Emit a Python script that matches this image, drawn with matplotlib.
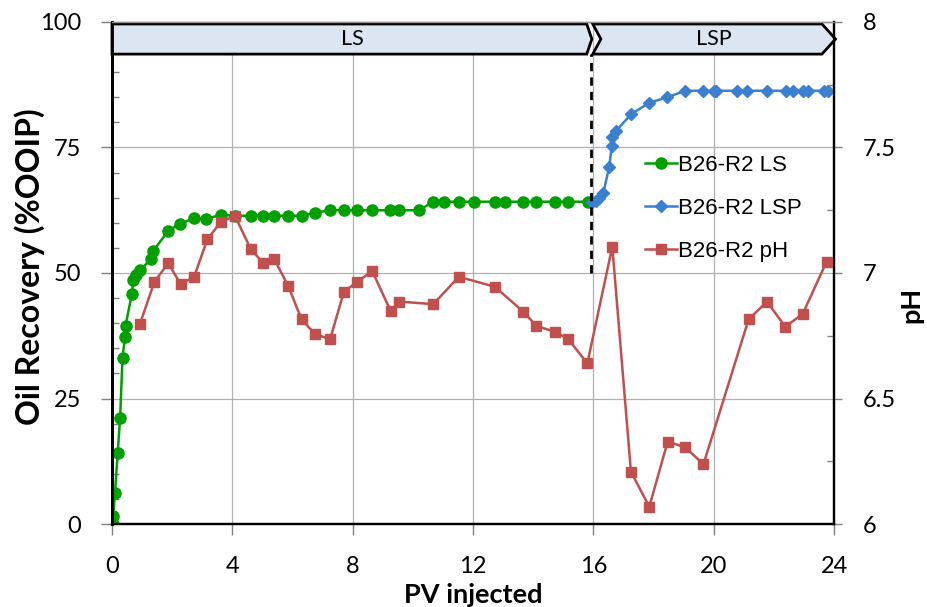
import matplotlib
matplotlib.use("Agg")
import matplotlib.pyplot as plt
from matplotlib.patches import Polygon
from matplotlib.ticker import MultipleLocator

# ---------------- data ----------------
ls_pv = [0.03, 0.04, 0.10, 0.19, 0.27, 0.35, 0.43, 0.45, 0.66, 0.71, 0.80, 0.93,
         1.30, 1.37, 1.87, 2.26, 2.73, 3.14, 3.62, 4.09, 4.62, 5.01, 5.39, 5.86,
         6.30, 6.75, 7.25, 7.71, 8.16, 8.65, 9.24, 9.54, 10.21, 10.68, 11.03,
         11.53, 12.03, 12.73, 13.06, 13.67, 14.11, 14.72, 15.17, 15.83]
ls_rec = [0.1, 1.6, 6.2, 14.2, 21.1, 33.1, 37.2, 39.5, 45.8, 48.7, 49.7, 50.5,
          52.8, 54.4, 58.4, 59.8, 60.9, 60.8, 61.6, 61.4, 61.4, 61.4, 61.4, 61.4,
          61.4, 62.0, 62.5, 62.5, 62.5, 62.5, 62.5, 62.5, 62.5, 64.2, 64.2,
          64.2, 64.2, 64.2, 64.2, 64.2, 64.2, 64.2, 64.2, 64.2]

lsp_pv = [15.95, 16.10, 16.20, 16.33, 16.53, 16.61, 16.63, 16.74, 17.25, 17.85,
          18.46, 19.05, 19.63, 20.00, 20.08, 20.78, 21.12, 21.78, 22.39, 22.65,
          22.98, 23.14, 23.66, 23.81]
lsp_rec = [64.2, 64.4, 65.0, 65.9, 71.2, 75.2, 77.0, 78.2, 81.6, 83.9,
           85.0, 86.3, 86.3, 86.3, 86.3, 86.3, 86.3, 86.3, 86.3, 86.3,
           86.3, 86.3, 86.3, 86.3]

ph_pv = [0.93, 1.41, 1.87, 2.28, 2.73, 3.17, 3.62, 4.09, 4.61, 5.03, 5.39, 5.86,
         6.30, 6.75, 7.25, 7.71, 8.16, 8.65, 9.26, 9.54, 10.68, 11.53, 12.73,
         13.67, 14.11, 14.72, 15.17, 15.80, 16.63, 17.25, 17.86, 18.47, 19.05,
         19.66, 21.16, 21.77, 22.38, 22.96, 23.75]
ph_val = [6.797, 6.965, 7.039, 6.956, 6.985, 7.134, 7.204, 7.227, 7.096, 7.039,
          7.056, 6.948, 6.815, 6.757, 6.736, 6.926, 6.965, 7.008, 6.849, 6.886,
          6.876, 6.985, 6.945, 6.846, 6.789, 6.766, 6.736, 6.640, 7.105, 6.208,
          6.069, 6.328, 6.306, 6.238, 6.815, 6.886, 6.786, 6.837, 7.045]

x_ticks = [0, 4, 8, 12, 16, 20, 24]
y_ticks = [0, 25, 50, 75, 100]
ph_ticks = [6, 6.5, 7, 7.5, 8]
ph_tick_labels = ["6", "6.5", "7", "7.5", "8"]
stage_labels = ["LS", "LSP"]
stage_bounds = [0.0, 15.95, 24.05]
switch_pv = 15.92
series_names = ["B26-R2 LS", "B26-R2 LSP", "B26-R2 pH"]

# ---------------- style ----------------
c_green = "#00a000"
c_blue = "#3a7fd0"
c_red = "#c0504d"
tick_font = "Lato"

fig = plt.figure(figsize=(9.27, 6.07), dpi=100)
ax = fig.add_axes([0.1208, 0.1367, 0.7789, 0.8271])
ax2 = ax.twinx()

ax.set_xlim(0, 24)
ax.set_ylim(0, 100)
ax2.set_ylim(6, 8)

# grid
for xv in x_ticks[1:-1]:
    ax.axvline(xv, color="#b0b0b0", lw=0.9, zorder=0)
for yv in y_ticks[1:-1]:
    ax.axhline(yv, color="#b0b0b0", lw=0.9, zorder=0)

# series
l1, = ax.plot(ls_pv, ls_rec, color=c_green, lw=1.8, marker="o", ms=8,
              label=series_names[0], zorder=4)
l2, = ax.plot(lsp_pv, lsp_rec, color=c_blue, lw=1.8, marker="D", ms=6.5,
              label=series_names[1], zorder=5)
l3, = ax2.plot(ph_pv, ph_val, color=c_red, lw=1.8, marker="s", ms=6.5,
               label=series_names[2], zorder=4)

# switch line
ax.plot([switch_pv, switch_pv], [50, 93.6], color="black", lw=2.0,
        ls=(0, (3, 2.2)), zorder=6)

# stage arrows
y0, y1 = 93.6, 99.6
ym = (y0 + y1) / 2
ls_poly = Polygon([(stage_bounds[0], y0), (stage_bounds[1] - 0.17, y0),
                   (stage_bounds[1], ym), (stage_bounds[1] - 0.17, y1),
                   (stage_bounds[0], y1)], closed=True,
                  facecolor="#dce6f2", edgecolor="black", lw=2.0,
                  clip_on=False, zorder=7)
lsp_poly = Polygon([(stage_bounds[1] + 0.03, y0), (stage_bounds[2] - 0.45, y0),
                    (stage_bounds[2], ym), (stage_bounds[2] - 0.45, y1),
                    (stage_bounds[1] + 0.03, y1), (stage_bounds[1] + 0.3, ym)],
                   closed=True, facecolor="#dce6f2", edgecolor="black", lw=2.0,
                   clip_on=False, zorder=7)
ax.add_patch(ls_poly)
ax.add_patch(lsp_poly)
ax.text((stage_bounds[0] + stage_bounds[1]) / 2, ym, stage_labels[0],
        ha="center", va="center", fontsize=15.5, family=tick_font, zorder=8)
ax.text((stage_bounds[1] + stage_bounds[2]) / 2, ym, stage_labels[1],
        ha="center", va="center", fontsize=15.5, family=tick_font, zorder=8)

# axes & ticks
ax.set_xticks(x_ticks)
ax.set_yticks(y_ticks)
ax.yaxis.set_minor_locator(MultipleLocator(5))
ax2.set_yticks(ph_ticks)
ax2.set_yticklabels(ph_tick_labels)
ax2.yaxis.set_minor_locator(MultipleLocator(0.25))

for a in (ax, ax2):
    for lab in a.get_xticklabels() + a.get_yticklabels():
        lab.set_fontfamily(tick_font)
        lab.set_fontsize(17)

ax.tick_params(axis="x", which="major", direction="out", length=8,
               width=1, color="#808080", pad=15)
ax.tick_params(axis="y", which="major", direction="out", length=8,
               width=1, color="#808080", pad=14)
ax.tick_params(axis="y", which="minor", direction="in", length=5,
               width=1, color="#808080")
ax2.tick_params(axis="y", which="major", direction="out", length=6,
                width=1, color="#808080", pad=15)
ax2.tick_params(axis="y", which="minor", direction="in", length=5,
                width=1, color="#808080")

for a in (ax, ax2):
    a.spines["left"].set_linewidth(2.0)
    a.spines["bottom"].set_linewidth(1.6)
    a.spines["right"].set_linewidth(1.6)
    a.spines["top"].set_color("#909090")
    a.spines["top"].set_linewidth(1.0)

ax.set_xlabel("PV injected", fontsize=19.5, fontweight="bold", family=tick_font,
              labelpad=4)
ax.set_ylabel("Oil Recovery (%OOIP)", fontsize=23, fontweight="bold",
              family=tick_font)
ax.yaxis.set_label_coords(-0.093, 0.512)
ax2.set_ylabel("pH", fontsize=19.5, fontweight="bold", family=tick_font,
               rotation=90)
ax2.yaxis.set_label_coords(1.091, 0.436)

leg = fig.legend(handles=[l1, l2, l3], loc="upper left",
                 bbox_to_anchor=(0.686, 0.759), frameon=False,
                 prop={"family": "Liberation Sans", "size": 16},
                 handlelength=1.45, handletextpad=0.05, labelspacing=0.98,
                 borderaxespad=0)

fig.savefig("out.png", dpi=100)
